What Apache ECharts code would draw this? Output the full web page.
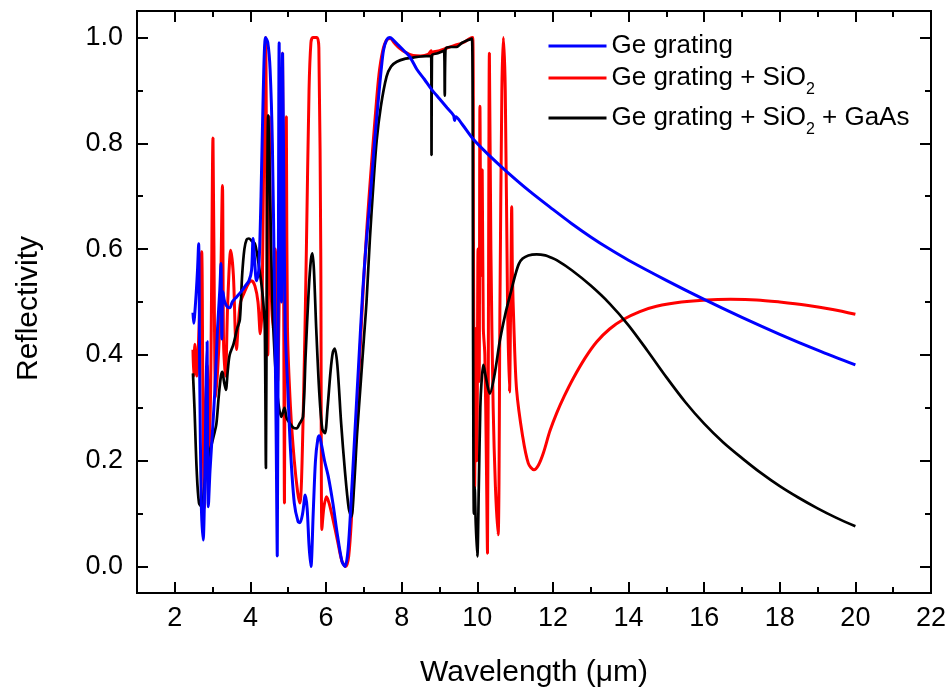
<!DOCTYPE html>
<html>
<head>
<meta charset="utf-8">
<script src="https://cdn.jsdelivr.net/npm/echarts@6/dist/echarts.min.js"></script>
<style>
  html, body { margin: 0; padding: 0; background: #fff; }
  #chart { width: 949px; height: 691px; }
</style>
</head>
<body>
<div id="chart"></div>
<script>
// Reflectivity spectra (wavelength in µm)
const geX = [2.48, 2.50, 2.55, 2.60, 2.63, 2.66, 2.70, 2.75, 2.79, 2.83, 2.855, 2.87, 2.886, 2.93, 3.00, 3.06, 3.13, 3.19, 3.22, 3.245, 3.27, 3.32, 3.40, 3.455, 3.52, 3.64, 3.76, 3.86, 3.96, 4.03, 4.07, 4.11, 4.16, 4.22, 4.28, 4.34, 4.40, 4.46, 4.52, 4.58, 4.64, 4.68, 4.71, 4.74, 4.76, 4.79, 4.82, 4.85, 4.88, 4.92, 4.98, 5.06, 5.16, 5.26, 5.31, 5.38, 5.45, 5.50, 5.55, 5.60, 5.66, 5.72, 5.78, 5.82, 5.88, 5.96, 6.06, 6.18, 6.30, 6.42, 6.50, 6.58, 6.66, 6.76, 6.86, 6.97, 7.06, 7.16, 7.28, 7.38, 7.46, 7.52, 7.60, 7.69, 7.78, 7.92, 8.06, 8.22, 8.40, 8.60, 8.79, 9.00, 9.20, 9.37, 9.40, 9.43, 9.60, 9.89, 10.30, 10.77, 11.39, 12.00, 12.50, 13.00, 13.50, 14.00, 15.00, 16.00, 17.00, 18.00, 19.00, 20.00];
const geY = [0.48, 0.46, 0.50, 0.56, 0.61, 0.35, 0.12, 0.05, 0.15, 0.35, 0.425, 0.20, 0.113, 0.18, 0.26, 0.334, 0.45, 0.523, 0.573, 0.43, 0.52, 0.50, 0.49, 0.489, 0.50, 0.51, 0.52, 0.53, 0.54, 0.56, 0.62, 0.58, 0.54, 0.56, 0.70, 0.90, 1.00, 0.99, 0.94, 0.80, 0.50, 0.25, 0.02, 0.60, 0.99, 0.70, 0.50, 0.97, 0.75, 0.45, 0.35, 0.22, 0.12, 0.085, 0.083, 0.10, 0.135, 0.11, 0.04, 0.00, 0.10, 0.20, 0.24, 0.247, 0.23, 0.20, 0.17, 0.12, 0.06, 0.01, 0.00, 0.03, 0.12, 0.25, 0.38, 0.52, 0.61, 0.69, 0.80, 0.88, 0.94, 0.976, 0.995, 1.00, 0.995, 0.985, 0.975, 0.963, 0.94, 0.921, 0.902, 0.884, 0.867, 0.853, 0.843, 0.850, 0.836, 0.808, 0.778, 0.747, 0.709, 0.675, 0.648, 0.623, 0.600, 0.579, 0.541, 0.505, 0.471, 0.439, 0.409, 0.381];

const sioX = [2.48, 2.50, 2.53, 2.58, 2.64, 2.71, 2.74, 2.78, 2.82, 2.86, 2.90, 2.95, 3.01, 3.05, 3.08, 3.14, 3.20, 3.26, 3.29, 3.34, 3.40, 3.48, 3.55, 3.60, 3.63, 3.68, 3.74, 3.85, 3.95, 4.03, 4.12, 4.20, 4.26, 4.31, 4.36, 4.40, 4.43, 4.46, 4.50, 4.54, 4.60, 4.66, 4.72, 4.78, 4.82, 4.85, 4.88, 4.90, 4.92, 4.95, 4.98, 5.06, 5.16, 5.25, 5.31, 5.40, 5.48, 5.55, 5.60, 5.65, 5.76, 5.81, 5.86, 5.89, 5.94, 6.01, 6.08, 6.18, 6.30, 6.42, 6.52, 6.60, 6.68, 6.78, 6.88, 6.98, 7.08, 7.18, 7.30, 7.40, 7.50, 7.60, 7.70, 7.80, 7.94, 8.10, 8.30, 8.50, 8.70, 8.78, 8.80, 8.82, 9.00, 9.20, 9.40, 9.62, 9.80, 9.88, 9.90, 9.93, 9.96, 9.99, 10.02, 10.05, 10.07, 10.10, 10.13, 10.16, 10.20, 10.24, 10.27, 10.30, 10.32, 10.36, 10.42, 10.48, 10.55, 10.60, 10.65, 10.69, 10.74, 10.80, 10.85, 10.89, 10.91, 10.93, 10.97, 11.04, 11.20, 11.35, 11.50, 11.62, 11.75, 11.92, 12.10, 12.30, 12.54, 12.85, 13.16, 13.50, 13.86, 14.30, 14.74, 15.40, 16.07, 16.70, 17.39, 18.00, 18.71, 19.40, 20.00];
const sioY = [0.41, 0.36, 0.42, 0.36, 0.45, 0.595, 0.35, 0.11, 0.30, 0.38, 0.20, 0.35, 0.81, 0.45, 0.32, 0.38, 0.48, 0.72, 0.42, 0.36, 0.50, 0.598, 0.55, 0.44, 0.41, 0.46, 0.50, 0.52, 0.535, 0.54, 0.53, 0.50, 0.44, 0.50, 0.85, 1.00, 0.70, 0.40, 0.85, 0.55, 0.45, 0.60, 0.35, 0.60, 0.75, 0.97, 0.50, 0.12, 0.50, 0.85, 0.45, 0.30, 0.20, 0.14, 0.12, 0.30, 0.60, 0.90, 0.99, 1.00, 1.00, 0.98, 0.60, 0.07, 0.11, 0.132, 0.12, 0.09, 0.05, 0.01, 0.00, 0.02, 0.10, 0.24, 0.38, 0.52, 0.64, 0.74, 0.85, 0.93, 0.975, 0.995, 0.998, 0.99, 0.98, 0.972, 0.966, 0.965, 0.968, 0.975, 0.965, 0.972, 0.975, 0.98, 0.985, 0.99, 0.998, 1.00, 0.60, 0.15, 0.45, 0.20, 0.60, 0.35, 0.87, 0.55, 0.75, 0.45, 0.40, 0.20, 0.025, 0.60, 0.97, 0.60, 0.30, 0.15, 0.06, 0.50, 0.90, 1.00, 0.90, 0.50, 0.33, 0.55, 0.68, 0.55, 0.45, 0.334, 0.246, 0.195, 0.183, 0.192, 0.215, 0.256, 0.290, 0.322, 0.356, 0.394, 0.425, 0.449, 0.467, 0.482, 0.492, 0.500, 0.504, 0.505, 0.504, 0.500, 0.494, 0.486, 0.477];

const gaX = [2.48, 2.52, 2.58, 2.64, 2.71, 2.78, 2.86, 2.97, 3.04, 3.10, 3.16, 3.22, 3.26, 3.30, 3.35, 3.40, 3.45, 3.55, 3.65, 3.72, 3.78, 3.84, 3.90, 3.96, 4.04, 4.12, 4.20, 4.28, 4.34, 4.38, 4.41, 4.43, 4.47, 4.52, 4.58, 4.64, 4.72, 4.82, 4.90, 4.96, 5.05, 5.14, 5.22, 5.30, 5.39, 5.46, 5.54, 5.60, 5.64, 5.68, 5.74, 5.82, 5.90, 5.97, 6.04, 6.12, 6.18, 6.23, 6.30, 6.40, 6.50, 6.60, 6.67, 6.74, 6.82, 6.92, 7.00, 7.07, 7.16, 7.25, 7.34, 7.45, 7.60, 7.72, 7.87, 8.10, 8.30, 8.50, 8.78, 8.79, 8.80, 8.95, 9.12, 9.14, 9.16, 9.30, 9.45, 9.60, 9.76, 9.86, 9.89, 9.91, 9.93, 9.96, 10.00, 10.04, 10.08, 10.11, 10.16, 10.22, 10.33, 10.45, 10.60, 10.75, 10.90, 11.00, 11.10, 11.20, 11.35, 11.57, 11.80, 11.95, 12.10, 12.50, 13.00, 13.50, 14.00, 14.50, 15.00, 15.50, 16.00, 16.50, 17.00, 17.50, 18.00, 18.50, 19.00, 19.50, 20.00];
const gaY = [0.365, 0.30, 0.18, 0.12, 0.113, 0.15, 0.20, 0.23, 0.25, 0.27, 0.32, 0.36, 0.368, 0.35, 0.334, 0.37, 0.40, 0.42, 0.45, 0.466, 0.55, 0.60, 0.618, 0.62, 0.615, 0.61, 0.58, 0.54, 0.50, 0.45, 0.186, 0.50, 0.853, 0.70, 0.50, 0.40, 0.32, 0.283, 0.30, 0.28, 0.27, 0.262, 0.261, 0.27, 0.283, 0.40, 0.52, 0.58, 0.592, 0.56, 0.45, 0.33, 0.26, 0.252, 0.30, 0.37, 0.405, 0.412, 0.38, 0.27, 0.18, 0.11, 0.094, 0.15, 0.25, 0.35, 0.43, 0.50, 0.62, 0.72, 0.806, 0.87, 0.926, 0.945, 0.954, 0.96, 0.962, 0.964, 0.965, 0.778, 0.966, 0.97, 0.975, 0.89, 0.978, 0.982, 0.982, 0.99, 0.995, 0.998, 0.41, 0.10, 0.15, 0.08, 0.019, 0.15, 0.30, 0.346, 0.381, 0.36, 0.327, 0.36, 0.428, 0.48, 0.522, 0.550, 0.572, 0.582, 0.588, 0.590, 0.588, 0.584, 0.579, 0.560, 0.531, 0.497, 0.456, 0.408, 0.358, 0.311, 0.270, 0.235, 0.205, 0.177, 0.152, 0.130, 0.110, 0.092, 0.076];

// Axis ticks
const xMajor = [2, 4, 6, 8, 10, 12, 14, 16, 18, 20, 22];
const xMinor = [1, 3, 5, 7, 9, 11, 13, 15, 17, 19, 21];
const yMajor = [0, 0.2, 0.4, 0.6, 0.8, 1.0];
const yMinor = [0.1, 0.3, 0.5, 0.7, 0.9];

const seriesNames = ['Ge grating', 'Ge grating + SiO2', 'Ge grating + SiO2 + GaAs'];
const seriesColors = ['#0000ff', '#ff0000', '#000000'];

const zip = (xs, ys) => xs.map((x, i) => [x, ys[i]]);

const FONT = 'Liberation Sans, Arial, sans-serif';
const X_MIN = 1, X_MAX = 22, Y_MIN = -0.05, Y_MAX = 1.05;

function xAxisDef(position, values, len, withLabel, withName) {
  return {
    type: 'value', position, min: X_MIN, max: X_MAX,
    splitLine: { show: false },
    axisLine: { show: true, onZero: false, lineStyle: { color: '#000', width: 2 } },
    axisTick: { show: true, inside: true, length: len, customValues: values, lineStyle: { color: '#000', width: 2 } },
    axisLabel: withLabel
      ? { show: true, customValues: values, margin: 12, fontSize: 27, color: '#000', fontFamily: FONT }
      : { show: false },
    name: withName ? 'Wavelength (\u03bcm)' : '',
    nameLocation: 'middle', nameGap: 65,
    nameTextStyle: { fontSize: 30, color: '#000', fontFamily: FONT }
  };
}
function yAxisDef(position, values, len, withLabel, withName) {
  return {
    type: 'value', position, min: Y_MIN, max: Y_MAX,
    splitLine: { show: false },
    axisLine: { show: true, onZero: false, lineStyle: { color: '#000', width: 2 } },
    axisTick: { show: true, inside: true, length: len, customValues: values, lineStyle: { color: '#000', width: 2 } },
    axisLabel: withLabel
      ? { show: true, customValues: values, margin: 14, fontSize: 27, color: '#000', fontFamily: FONT,
          formatter: v => v.toFixed(1) }
      : { show: false },
    name: withName ? 'Reflectivity' : '',
    nameLocation: 'middle', nameGap: 93, nameRotate: 90,
    nameTextStyle: { fontSize: 30, color: '#000', fontFamily: FONT, padding: [0, 13, 0, 0] }
  };
}

function legendRow(name, top) {
  return {
    data: [name], left: 547, top, orient: 'vertical', padding: 0,
    itemWidth: 58, itemHeight: 40, selectedMode: false,
    itemStyle: { opacity: 0 },
    lineStyle: { width: 3 },
    textStyle: {
      fontSize: 26, color: '#000', fontFamily: FONT,
      rich: { sub: { fontSize: 16, color: '#000', fontFamily: FONT, padding: [24, 0, 0, 0] } }
    },
    formatter: n => n.replace(/SiO2/g, 'SiO{sub|2}')
  };
}

const chart = echarts.init(document.getElementById('chart'), null, { renderer: 'canvas' });
chart.setOption({
  backgroundColor: '#fff',
  animation: false,
  grid: { left: 137, right: 18, top: 11, bottom: 98, containLabel: false, outerBoundsMode: 'none' },
  legend: [
    legendRow(seriesNames[0], 30),
    legendRow(seriesNames[1], 62),
    legendRow(seriesNames[2], 102)
  ],
  xAxis: [
    xAxisDef('bottom', xMajor, 11, true, true),
    xAxisDef('bottom', xMinor, 6, false, false),
    xAxisDef('top', xMajor, 11, false, false),
    xAxisDef('top', xMinor, 6, false, false)
  ],
  yAxis: [
    yAxisDef('left', yMajor, 11, true, true),
    yAxisDef('left', yMinor, 6, false, false),
    yAxisDef('right', yMajor, 11, false, false),
    yAxisDef('right', yMinor, 6, false, false)
  ],
  series: [
    { name: seriesNames[1], data: zip(sioX, sioY), color: seriesColors[1], width: 3 },
    { name: seriesNames[2], data: zip(gaX, gaY), color: seriesColors[2], width: 2.7 },
    { name: seriesNames[0], data: zip(geX, geY), color: seriesColors[0], width: 3 }
  ].map(s => ({
    type: 'line', name: s.name, data: s.data, xAxisIndex: 0, yAxisIndex: 0,
    symbol: 'none', smooth: 0.3,
    lineStyle: { width: s.width, color: s.color }, itemStyle: { color: s.color }
  }))
});
</script>
</body>
</html>
